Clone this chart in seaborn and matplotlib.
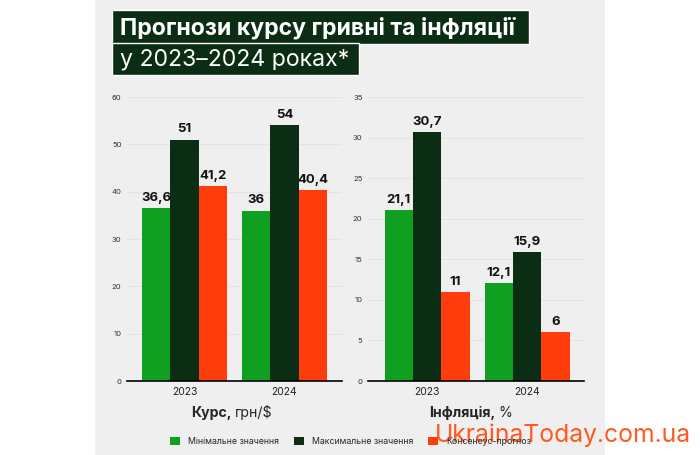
import pandas as pd
import seaborn as sns
import matplotlib.pyplot as plt
from matplotlib.patches import Rectangle, Patch

sns.set_style('white')
plt.rcParams['font.family'] = ['Inter', 'DejaVu Sans']

years = ['2023', '2024']
series = ['Мінімальне значення', 'Максимальне значення', 'Консенсус-прогноз']
rate_min = [36.6, 36.0]
rate_max = [51.0, 54.0]
rate_cons = [41.2, 40.4]
infl_min = [21.1, 12.1]
infl_max = [30.7, 15.9]
infl_cons = [11.0, 6.0]
colors = ['#0fa022', '#0b2d13', '#ff3c0c']
bg = '#efefef'


def long_frame(vals):
    rows = []
    for name, v in zip(series, vals):
        for y, x in zip(years, v):
            rows.append({'year': y, 'kind': name, 'value': x})
    return pd.DataFrame(rows)


df_rate = long_frame([rate_min, rate_max, rate_cons])
df_infl = long_frame([infl_min, infl_max, infl_cons])

fig = plt.figure(figsize=(7, 4.55), dpi=100)
fig.patch.set_facecolor('white')
fig.patches.append(Rectangle((95 / 700, 0), 510 / 700, 1, transform=fig.transFigure,
                             facecolor=bg, edgecolor='none', zorder=-5))

# title boxes
fig.patches.append(Rectangle((112 / 700, 1 - 44 / 455), 417 / 700, 34 / 455,
                             transform=fig.transFigure, facecolor='#0b2d13', zorder=1))
fig.patches.append(Rectangle((112 / 700, 1 - 75 / 455), 247 / 700, 32 / 455,
                             transform=fig.transFigure, facecolor='#0b2d13', zorder=1))
fig.text(120 / 700, 1 - 28 / 455, 'Прогнози курсу гривні та інфляції', color='white',
         fontsize=16.6, fontweight='bold', va='center', ha='left', zorder=2)
fig.text(120 / 700, 1 - 60 / 455, 'у 2023–2024 роках*', color='white',
         fontsize=16.6, va='center', ha='left', zorder=2)


def draw(ax, df, ymax, step):
    sns.barplot(data=df, x='year', y='value', hue='kind', hue_order=series,
                palette=colors, width=0.85, gap=0, saturation=1, linewidth=0,
                legend=False, ax=ax)
    ax.set_facecolor('none')
    ax.set_ylim(0, ymax)
    ax.set_yticks(range(0, ymax + 1, step))
    ax.grid(axis='y', color='#e3e3e3', linewidth=0.8)
    ax.set_axisbelow(True)
    for s in ['top', 'right', 'left']:
        ax.spines[s].set_visible(False)
    ax.spines['bottom'].set_color('black')
    ax.spines['bottom'].set_linewidth(1.2)
    ax.tick_params(axis='y', length=0, labelsize=5.5, labelcolor='#333333', pad=4)
    ax.tick_params(axis='x', length=0, labelsize=7.5, labelcolor='#222222', pad=4)
    ax.set_xlabel('')
    ax.set_ylabel('')
    for c in ax.containers:
        labels = [f'{b.get_height():g}'.replace('.', ',') for b in c]
        ax.bar_label(c, labels=labels, padding=3, fontsize=9.5, fontweight='bold', color='#111111')


ax1 = fig.add_axes([127 / 700, 1 - 381 / 455, 215 / 700, 284 / 455])
draw(ax1, df_rate, 60, 10)
ax1.set_xlim(-0.575, 1.575)

ax2 = fig.add_axes([368 / 700, 1 - 381 / 455, 216 / 700, 284 / 455])
draw(ax2, df_infl, 35, 5)
ax2.set_xlim(-0.59, 1.57)

# panel captions
fig.text(232 / 700, 1 - 413 / 455, 'Курс,', fontsize=10.2, fontweight='bold', ha='right', va='center')
fig.text(235 / 700, 1 - 413 / 455, 'грн/$', fontsize=10.2, ha='left', va='center')
fig.text(495 / 700, 1 - 413 / 455, 'Інфляція,', fontsize=10.2, fontweight='bold', ha='right', va='center')
fig.text(498 / 700, 1 - 413 / 455, '%', fontsize=10.2, ha='left', va='center')

handles = [Patch(facecolor=c, edgecolor='none') for c in colors]
fig.legend(handles, series, loc='center', bbox_to_anchor=(0.5007, 1 - 441.5 / 455), ncol=3,
           frameon=False, fontsize=6.3, handlelength=1.14, handleheight=1.14,
           handletextpad=0.9, columnspacing=1.7)

fig.text(435 / 700, 1 - 442 / 455, 'UkrainaToday.com.ua', color='#ff5a1f', fontsize=17.8,
         ha='left', va='baseline', zorder=5)

plt.savefig('out.png', dpi=100, facecolor=fig.get_facecolor())
plt.close()
